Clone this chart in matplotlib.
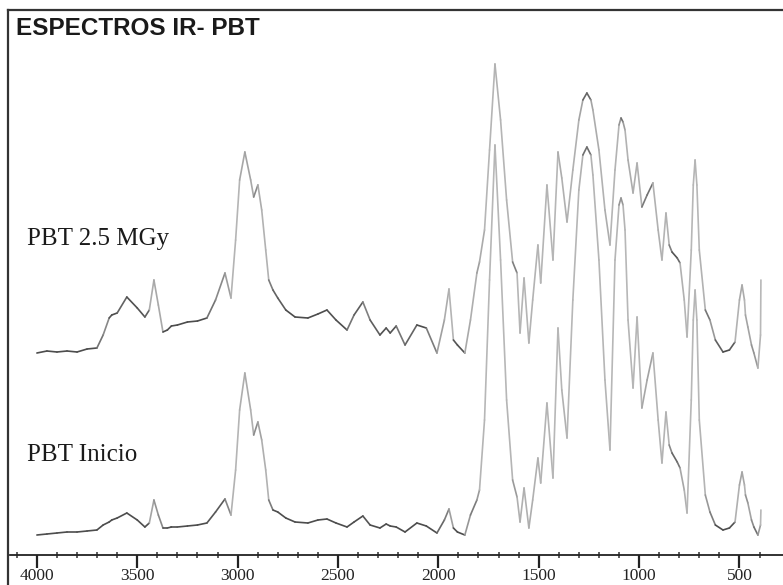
import numpy as np
import matplotlib
matplotlib.use("Agg")
import matplotlib.pyplot as plt
from matplotlib.collections import LineCollection
from matplotlib.lines import Line2D

# Wavenumbers (cm-1) and offset intensities (a.u.) for both spectra
wavenumber = [4000, 3950, 3900, 3850, 3800, 3750, 3701, 3670, 3640, 3627, 3600, 3552, 3500, 3462,
              3440, 3417, 3395, 3372, 3350, 3330, 3300, 3250, 3200, 3153, 3110, 3063, 3033, 3010,
              2990, 2964, 2935, 2920, 2899, 2880, 2860, 2845, 2824, 2800, 2760, 2714, 2650, 2600,
              2555, 2510, 2455, 2420, 2376, 2340, 2291, 2260, 2240, 2210, 2166, 2107, 2060, 2007,
              1970, 1947, 1925, 1905, 1868, 1840, 1808, 1795, 1770, 1745, 1718, 1690, 1660, 1630,
              1608, 1593, 1573, 1549, 1530, 1504, 1490, 1459, 1429, 1404, 1385, 1359, 1330, 1300,
              1280, 1260, 1240, 1230, 1200, 1170, 1145, 1120, 1100, 1090, 1080, 1070, 1055, 1030,
              1010, 986, 960, 931, 905, 886, 866, 850, 836, 810, 796, 775, 761, 740, 730, 721,
              712, 700, 670, 647, 620, 582, 550, 522, 500, 487, 475, 470, 458, 440, 428, 408,
              395, 393]

pbt_25mgy = [202, 204, 203, 204, 203, 206, 207, 220, 237, 240, 242, 258, 247, 238,
             245, 275, 250, 223, 225, 229, 230, 233, 234, 237, 255, 282, 257, 315,
             375, 403, 375, 358, 370, 345, 305, 275, 265, 257, 245, 238, 237, 241,
             245, 235, 225, 240, 253, 235, 220, 227, 222, 229, 210, 230, 227, 202,
             235, 266, 215, 210, 202, 235, 282, 293, 325, 405, 491, 435, 355, 293,
             282, 222, 277, 212, 255, 310, 272, 370, 295, 403, 377, 333, 385, 435,
             455, 462, 455, 445, 405, 345, 310, 385, 430, 437, 433, 425, 395, 362,
             392, 348, 360, 372, 325, 295, 342, 310, 303, 297, 292, 255, 218, 305, 370, 395,
             370, 305, 245, 235, 215, 203, 205, 213, 255, 270, 255, 240, 228, 210, 202, 187,
             220, 275]

pbt_inicio = [20, 21, 22, 23, 23, 24, 25, 30, 33, 35, 37, 42, 35, 28,
              32, 55, 40, 27, 27, 28, 28, 29, 30, 32, 43, 56, 40, 85,
              145, 182, 145, 120, 133, 115, 85, 55, 45, 43, 37, 33, 32, 35,
              36, 32, 28, 33, 39, 30, 27, 31, 29, 28, 23, 32, 29, 22,
              35, 46, 27, 23, 20, 40, 55, 65, 135, 275, 410, 295, 155, 75,
              58, 33, 67, 27, 55, 97, 72, 152, 77, 227, 165, 117, 255, 365,
              400, 408, 400, 380, 295, 175, 105, 295, 350, 357, 350, 325, 235, 167,
              238, 147, 175, 202, 135, 92, 143, 110, 102, 93, 87, 65, 42, 155, 235, 265,
              235, 135, 60, 43, 30, 25, 27, 33, 70, 83, 70, 60, 52, 35, 28, 20,
              30, 45]

series_labels = ["PBT 2.5 MGy", "PBT Inicio"]
label_baselines = [310, 94]
title = "ESPECTROS IR- PBT"
major_ticks = [4000, 3500, 3000, 2500, 2000, 1500, 1000, 500]

W, H = 783, 585
fig = plt.figure(figsize=(W / 100, H / 100), dpi=100)
fig.patch.set_facecolor("white")

ax = fig.add_axes([10 / W, 30 / H, 773 / W, 545 / H])
ax.set_xlim(4134, 283)
ax.set_ylim(0, 545)
ax.set_facecolor("none")
for side in ("left", "right", "top"):
    ax.spines[side].set_visible(False)
ax.spines["bottom"].set_linewidth(1.3)
ax.spines["bottom"].set_color("#222222")
ax.set_yticks([])

ax.set_xticks(major_ticks)
ax.set_xticklabels([str(t) for t in major_ticks], family="Liberation Serif",
                   fontsize=12.5, color="#222222")
ax.set_xticks(np.arange(400, 4101, 100), minor=True)
ax.tick_params(axis="x", which="major", direction="out", length=9, width=1.6,
               color="#222222", pad=0)
ax.tick_params(axis="x", which="minor", direction="inout", length=5, width=1.1,
               color="#333333")


def draw_spectrum(xs, ys):
    # near-vertical segments come out lighter, like a thin pen trace
    pts = np.column_stack([xs, ys]).astype(float)
    disp = ax.transData.transform(pts)
    d = np.diff(disp, axis=0)
    steep = np.abs(d[:, 1]) / np.hypot(d[:, 0], d[:, 1])
    grey = 0.3 + 0.42 * steep ** 10
    colors = [(g, g, g) for g in grey]
    segs = np.stack([pts[:-1], pts[1:]], axis=1)
    lc = LineCollection(segs, colors=colors, linewidths=1.2, capstyle="round",
                        joinstyle="round")
    ax.add_collection(lc)


draw_spectrum(wavenumber, pbt_25mgy)
draw_spectrum(wavenumber, pbt_inicio)

for lbl, yb in zip(series_labels, label_baselines):
    ax.text(4050, yb, lbl, family="Liberation Serif", fontsize=18, color="#1a1a1a",
            va="baseline", ha="left")

fig.text(16 / W, 1 - 35 / H, title, family="Liberation Sans", fontweight="bold",
         fontsize=17.5, color="#1a1a1a", va="baseline", ha="left")

# frame lines on the left and top edges
fig.add_artist(Line2D([8 / W, 8 / W], [0, 1 - 10 / H], transform=fig.transFigure,
                      color="#333333", linewidth=1.6))
fig.add_artist(Line2D([8 / W, 1], [1 - 10 / H, 1 - 10 / H], transform=fig.transFigure,
                      color="#333333", linewidth=1.6))

fig.savefig("out.png", dpi=100)
